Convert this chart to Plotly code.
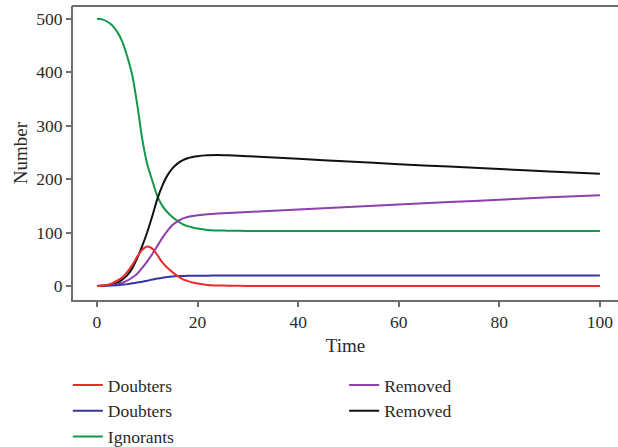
import plotly.graph_objects as go

time = [0, 1, 2, 3, 4, 5, 6, 7, 8, 9, 10, 11, 12, 13, 14, 15, 16, 17, 18, 19, 20,
        22, 24, 26, 30, 40, 50, 60, 70, 80, 90, 100]

doubters_red = [0, 0.5, 2, 5, 10, 16, 26, 39, 55, 68, 74, 70, 58, 44, 34, 26, 19, 13, 9.5, 6.5, 4.5,
                2, 1, 0.5, 0.2, 0, 0, 0, 0, 0, 0, 0]
doubters_blue = [0, 0.2, 0.5, 1, 1.5, 2.5, 3.5, 5, 6.5, 8, 10, 12, 14, 15.5, 17, 18, 18.5, 18.8, 19, 19.2, 19.3,
                 19.4, 19.5, 19.5, 19.5, 19.5, 19.5, 19.5, 19.5, 19.5, 19.5, 19.5]
ignorants = [500, 499, 495, 488, 476, 458, 430, 395, 340, 275, 228, 197, 168, 150, 138, 129, 122, 116, 112, 109.5, 107.5,
             105, 104, 103.5, 103, 103, 103, 103, 103, 103, 103, 103]
removed_purple = [0, 0.5, 1, 2, 3, 6, 10, 16, 23, 34, 46, 60, 75, 90, 103, 114, 121, 126, 129, 131, 132.5,
                  134.5, 135.5, 136.5, 138.5, 143, 148, 152.5, 157, 161.5, 166, 170]
removed_black = [0, 0.5, 1.5, 3, 6, 12, 20, 33, 52, 75, 101, 131, 163, 188, 207, 220, 229, 235, 239, 241.5, 243,
                 244.5, 245, 244.5, 243, 238, 233, 228, 223.5, 219, 214.5, 210]

series = [
    ("Doubters", doubters_red, "#ee2b2b", "legend"),
    ("Doubters", doubters_blue, "#3535a8", "legend"),
    ("Ignorants", ignorants, "#12984a", "legend"),
    ("Removed", removed_purple, "#8e3fae", "legend2"),
    ("Removed", removed_black, "#111111", "legend2"),
]

x_ticks = [0, 20, 40, 60, 80, 100]
y_ticks = [0, 100, 200, 300, 400, 500]

fig = go.Figure()
order = [2, 4, 3, 1, 0]
for i in order:
    name, vals, color, lg = series[i]
    fig.add_trace(go.Scatter(
        x=time, y=vals, mode="lines", name=name,
        line=dict(color=color, width=2, shape="spline", smoothing=0.6),
        legend=lg, legendrank=i, legendgroup=str(i),
    ))

FF = "Liberation Serif"
txt = "#2a2a2a"
axis_color = "#6e6e6e"

fig.update_layout(
    width=618, height=447,
    margin=dict(l=73, r=0, t=6, b=147, autoexpand=False),
    paper_bgcolor="white", plot_bgcolor="white",
    font=dict(family=FF, size=17, color=txt),
    showlegend=True,
    xaxis=dict(
        range=[-4.77, 103.6], tickvals=x_ticks, ticks="outside", ticklen=5,
        tickcolor=axis_color, tickwidth=1.5, showgrid=False, zeroline=False,
        showline=True, linecolor=axis_color, linewidth=2, mirror=False,
        automargin=False,
        tickfont=dict(family=FF, size=17.5, color=txt),
        title=dict(text="Time", standoff=8, font=dict(family=FF, size=19, color=txt)),
    ),
    yaxis=dict(
        range=[-26.2, 524], tickvals=y_ticks, ticks="outside", ticklen=5,
        tickcolor=axis_color, tickwidth=1.5, showgrid=False, zeroline=False,
        showline=True, linecolor=axis_color, linewidth=2, mirror=False,
        automargin=False,
        tickfont=dict(family=FF, size=17.5, color=txt),
        title=dict(text="Number", standoff=4, font=dict(family=FF, size=19, color=txt)),
    ),
    shapes=[dict(type="line", xref="paper", yref="paper", x0=-0.002, x1=1.0, y0=1, y1=1,
                 line=dict(color=axis_color, width=2), layer="above")],
    legend=dict(
        x=-0.0095, y=-0.228, xanchor="left", yanchor="top", orientation="v",
        font=dict(family=FF, size=17.5, color=txt), tracegroupgap=0, bgcolor="rgba(0,0,0,0)",
        traceorder="normal", itemwidth=30,
    ),
    legend2=dict(
        x=0.4975, y=-0.228, xanchor="left", yanchor="top", orientation="v",
        font=dict(family=FF, size=17.5, color=txt), tracegroupgap=0, bgcolor="rgba(0,0,0,0)",
        traceorder="normal", itemwidth=30,
    ),
)

fig.write_html(
    "out.html",
    config={"displayModeBar": False},
    post_script="document.body.style.margin='0';document.body.style.overflow='hidden';",
)
